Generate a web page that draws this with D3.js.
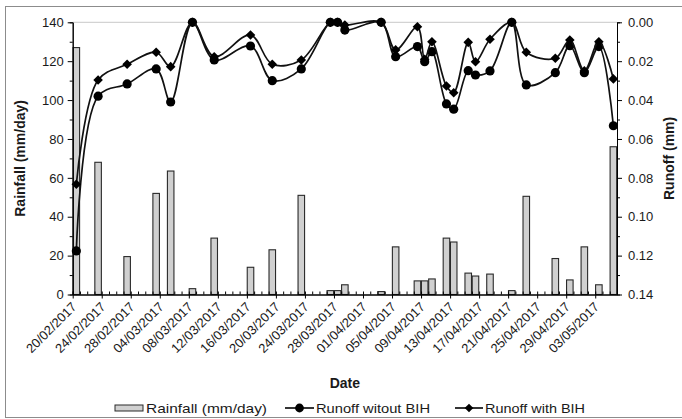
<!DOCTYPE html>
<html>
<head>
<meta charset="utf-8">
<script src="https://cdn.jsdelivr.net/npm/d3@7"></script>
<style>
  html, body { margin: 0; padding: 0; background: #fff; }
  svg { display: block; font-family: "Liberation Sans", Arial, sans-serif; }
</style>
</head>
<body>
<svg id="chart" width="682" height="419"></svg>
<script>
// ---- data ----
const dates = ["20/02/2017","23/02/2017","27/02/2017","03/03/2017","05/03/2017","08/03/2017","11/03/2017",
  "16/03/2017","19/03/2017","23/03/2017","27/03/2017","28/03/2017","29/03/2017","03/04/2017","05/04/2017",
  "08/04/2017","09/04/2017","10/04/2017","12/04/2017","13/04/2017","15/04/2017","16/04/2017","18/04/2017",
  "21/04/2017","23/04/2017","27/04/2017","29/04/2017","01/05/2017","03/05/2017","05/05/2017"];
const rainfall = [127, 68, 19.5, 52, 63.5, 3, 29, 14, 23, 51, 2, 2, 5, 1.5, 24.5,
  7, 7, 8, 29, 27, 11, 9.5, 10.5, 2, 50.5, 18.5, 7.5, 24.5, 5, 76];
const runoffWithout = [0.1176, 0.038, 0.0317, 0.024, 0.041, 0, 0.0194, 0.0122, 0.030, 0.024, 0, 0, 0.004, 0, 0.0177,
  0.0125, 0.0203, 0.0151, 0.042, 0.0447, 0.0249, 0.0271, 0.025, 0, 0.0322, 0.0259, 0.012, 0.0259, 0.0125, 0.0532];
const runoffWith = [0.0833, 0.0297, 0.0216, 0.0154, 0.0228, 0, 0.0177, 0.0065, 0.0216, 0.0194, 0, 0, 0.0014, 0, 0.0142,
  0.0023, 0.019, 0.010, 0.0328, 0.0362, 0.0103, 0.0203, 0.0087, 0, 0.0154, 0.0185, 0.0091, 0.025, 0.010, 0.0291];
const xTickLabels = ["20/02/2017","24/02/2017","28/02/2017","04/03/2017","08/03/2017","12/03/2017","16/03/2017",
  "20/03/2017","24/03/2017","28/03/2017","01/04/2017","05/04/2017","09/04/2017","13/04/2017","17/04/2017",
  "21/04/2017","25/04/2017","29/04/2017","03/05/2017"];
const xStartLabel = "20/02/2017";
const xEndLabel = "06/05/2017";
const leftTicks = [0, 20, 40, 60, 80, 100, 120, 140];
const leftMinor = [10, 30, 50, 70, 90, 110, 130];
const rightTicks = [0, 0.02, 0.04, 0.06, 0.08, 0.10, 0.12, 0.14];
const rightMinor = [0.01, 0.03, 0.05, 0.07, 0.09, 0.11, 0.13];
const legendLabels = ["Rainfall (mm/day)", "Runoff witout BIH", "Runoff with BIH"];

(function () {
// ---- layout ----
const parse = d3.timeParse("%d/%m/%Y");
const fmt = d3.timeFormat("%d/%m/%Y");
const pL = 72.7, pR = 617, pT = 22.3, pB = 294.5;
const svg = d3.select("#chart");
const txt = "#1a1a1a";

const start = parse(xStartLabel), end = parse(xEndLabel);
const x = d3.scaleTime().domain([start, end]).range([pL, pR]);
const yL = d3.scaleLinear().domain([0, 140]).range([pB, pT]);
const yR = d3.scaleLinear().domain([0, 0.14]).range([pT, pB]);
const slotW = x(d3.timeDay.offset(start, 1)) - x(start);
const xc = s => x(d3.timeHour.offset(parse(s), 12));

// outer border
svg.append("rect").attr("x", 5.5).attr("y", 6.5).attr("width", 690).attr("height", 411)
  .attr("fill", "none").attr("stroke", "#8c8c8c").attr("stroke-width", 1);

// top plot border
svg.append("line").attr("x1", pL).attr("x2", pR).attr("y1", pT).attr("y2", pT)
  .attr("stroke", "#c8c8c8").attr("stroke-width", 1);

// bars
const barW = slotW * 0.9;
svg.append("g").selectAll("rect").data(dates).join("rect")
  .attr("x", (d) => xc(d) - barW / 2)
  .attr("y", (d, i) => yL(rainfall[i]))
  .attr("width", barW)
  .attr("height", (d, i) => yL(0) - yL(rainfall[i]))
  .attr("fill", "#d0d0d0").attr("stroke", "#2a2a2a").attr("stroke-width", 1.1);

// axes
function styleAxis(g) {
  g.select(".domain").attr("stroke", "#000").attr("stroke-width", 1);
  g.selectAll(".tick line").attr("stroke", "#000").attr("stroke-width", 1);
  g.selectAll("text").attr("fill", txt).attr("font-size", 13)
    .attr("font-family", "'Liberation Sans', Arial, sans-serif");
}
// x minor ticks (inside)
svg.append("g").attr("transform", `translate(0,${pB})`)
  .call(d3.axisBottom(x).tickValues(d3.timeDay.range(start, d3.timeDay.offset(end, 1))).tickSize(-3).tickFormat(""))
  .call(styleAxis);
// x major
const xTickDates = xTickLabels.map(parse);
const gx = svg.append("g").attr("transform", `translate(0,${pB})`)
  .call(d3.axisBottom(x).tickValues(xTickDates).tickSize(4).tickSizeOuter(0).tickFormat(fmt))
  .call(styleAxis);
gx.selectAll("text")
  .attr("text-anchor", "end")
  .attr("x", 0).attr("y", 0).attr("dy", "0.35em")
  .attr("transform", "translate(1,10) rotate(-45)");

// left axis
svg.append("g").attr("transform", `translate(${pL},0)`)
  .call(d3.axisLeft(yL).tickValues(leftMinor).tickSize(3).tickFormat("")).call(styleAxis);
svg.append("g").attr("transform", `translate(${pL},0)`)
  .call(d3.axisLeft(yL).tickValues(leftTicks).tickSize(5).tickSizeOuter(0).tickPadding(4).tickFormat(d3.format("d")))
  .call(styleAxis);
// right axis
svg.append("g").attr("transform", `translate(${pR},0)`)
  .call(d3.axisRight(yR).tickValues(rightMinor).tickSize(3).tickFormat("")).call(styleAxis);
svg.append("g").attr("transform", `translate(${pR},0)`)
  .call(d3.axisRight(yR).tickValues(rightTicks).tickSize(5).tickSizeOuter(0).tickPadding(6).tickFormat(d3.format(".2f")))
  .call(styleAxis);

// lines
const curve = d3.curveCatmullRom.alpha(0.5);
function drawSeries(vals, marker) {
  const pts = dates.map((d, i) => [xc(d), yR(vals[i])]);
  svg.append("path").attr("d", d3.line().curve(curve)(pts))
    .attr("fill", "none").attr("stroke", "#111").attr("stroke-width", 1.7);
  const g = svg.append("g");
  if (marker === "circle") {
    g.selectAll("circle").data(pts).join("circle")
      .attr("cx", p => p[0]).attr("cy", p => p[1]).attr("r", 4.6).attr("fill", "#000");
  } else {
    g.selectAll("path").data(pts).join("path")
      .attr("d", p => `M${p[0]},${p[1]-4.8}L${p[0]+4.8},${p[1]}L${p[0]},${p[1]+4.8}L${p[0]-4.8},${p[1]}Z`)
      .attr("fill", "#000");
  }
}
drawSeries(runoffWithout, "circle");
drawSeries(runoffWith, "diamond");

// axis titles
svg.append("text").attr("transform", `translate(20,${(pT + pB) / 2}) rotate(-90)`)
  .attr("text-anchor", "middle").attr("dy", "0.35em").attr("font-weight", "bold").attr("font-size", 14)
  .attr("fill", txt).text("Rainfall (mm/day)");
svg.append("text").attr("transform", `translate(669,${(pT + pB) / 2}) rotate(-90)`)
  .attr("text-anchor", "middle").attr("dy", "0.35em").attr("font-weight", "bold").attr("font-size", 14)
  .attr("fill", txt).text("Runoff (mm)");
svg.append("text").attr("x", (pL + pR) / 2).attr("y", 388)
  .attr("text-anchor", "middle").attr("font-weight", "bold").attr("font-size", 14)
  .attr("fill", txt).text("Date");

// legend
const ly = 408;
const lg = svg.append("g");
lg.append("rect").attr("x", 115).attr("y", ly - 3).attr("width", 28).attr("height", 6)
  .attr("fill", "#d0d0d0").attr("stroke", "#2a2a2a").attr("stroke-width", 1);
lg.append("text").attr("x", 146).attr("y", ly).attr("dy", "0.35em").attr("font-size", 13.5)
  .attr("textLength", 121).attr("lengthAdjust", "spacingAndGlyphs").attr("fill", txt).text(legendLabels[0]);
lg.append("line").attr("x1", 285).attr("x2", 314).attr("y1", ly).attr("y2", ly).attr("stroke", "#111").attr("stroke-width", 1.7);
lg.append("circle").attr("cx", 299.5).attr("cy", ly).attr("r", 4.4).attr("fill", "#000");
lg.append("text").attr("x", 316).attr("y", ly).attr("dy", "0.35em").attr("font-size", 13.5)
  .attr("textLength", 114).attr("lengthAdjust", "spacingAndGlyphs").attr("fill", txt).text(legendLabels[1]);
lg.append("line").attr("x1", 455).attr("x2", 483).attr("y1", ly).attr("y2", ly).attr("stroke", "#111").attr("stroke-width", 1.7);
lg.append("path").attr("d", `M469,${ly-4.3}L${469+4.3},${ly}L469,${ly+4.3}L${469-4.3},${ly}Z`).attr("fill", "#000");
lg.append("text").attr("x", 485).attr("y", ly).attr("dy", "0.35em").attr("font-size", 13.5)
  .attr("textLength", 100).attr("lengthAdjust", "spacingAndGlyphs").attr("fill", txt).text(legendLabels[2]);
})();
</script>
</body>
</html>
